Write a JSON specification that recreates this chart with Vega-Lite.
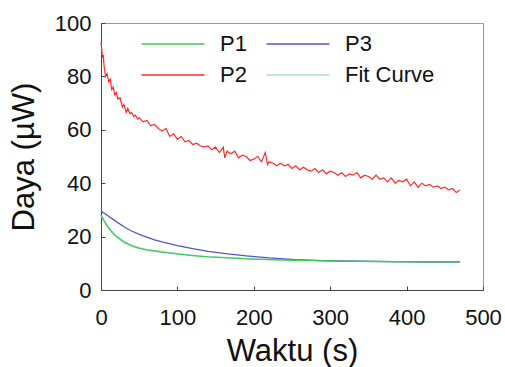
{
  "$schema": "https://vega.github.io/schema/vega-lite/v6.json",
  "width": 382,
  "height": 267,
  "autosize": "none",
  "padding": {"left": 101, "top": 23, "right": 22, "bottom": 77},
  "config": {
    "font": "Liberation Sans",
    "view": {"stroke": "#999999", "strokeWidth": 1},
    "axis": {"grid": false, "domainColor": "#444444", "tickColor": "#444444", "labelColor": "#111111", "titleColor": "#111111", "labelFont": "Liberation Sans", "titleFont": "Liberation Sans", "titleFontWeight": "normal"}
  },
  "datasets": {
    "p2": [
      {"t":0,"v":93},{"t":1,"v":90},{"t":2,"v":87},{"t":3,"v":88},{"t":4,"v":84},{"t":5,"v":82},{"t":6,"v":80},{"t":8,"v":81},{"t":10,"v":78},{"t":12,"v":79},{"t":14,"v":75},{"t":16,"v":76},{"t":18,"v":73},{"t":20,"v":74},{"t":22,"v":71.5},{"t":25,"v":72},{"t":28,"v":68.5},{"t":30,"v":69.5},{"t":33,"v":66.5},{"t":35,"v":68},{"t":38,"v":66},{"t":40,"v":66.5},{"t":43,"v":65},{"t":45,"v":65.5},{"t":48,"v":64},{"t":50,"v":64.5},{"t":55,"v":63},{"t":60,"v":63.5},{"t":65,"v":61.5},{"t":70,"v":62},{"t":75,"v":60.5},{"t":80,"v":59.5},{"t":85,"v":60.5},{"t":90,"v":57.5},{"t":95,"v":58.5},{"t":100,"v":56.5},{"t":105,"v":57.5},{"t":110,"v":55.5},{"t":115,"v":56},{"t":120,"v":54.5},{"t":125,"v":55},{"t":130,"v":54},{"t":135,"v":53.5},{"t":140,"v":54},{"t":145,"v":52.5},{"t":150,"v":53.5},{"t":155,"v":51.5},{"t":160,"v":53.5},{"t":162,"v":49.5},{"t":165,"v":52},{"t":170,"v":51},{"t":175,"v":52},{"t":180,"v":49.5},{"t":185,"v":50.5},{"t":190,"v":50},{"t":195,"v":48.5},{"t":200,"v":49},{"t":205,"v":50},{"t":210,"v":48},{"t":215,"v":51.5},{"t":218,"v":47},{"t":220,"v":48},{"t":225,"v":47.5},{"t":230,"v":46.5},{"t":235,"v":47.5},{"t":240,"v":46.5},{"t":245,"v":47},{"t":250,"v":45.5},{"t":255,"v":46.5},{"t":260,"v":45},{"t":265,"v":46},{"t":270,"v":45},{"t":275,"v":44.5},{"t":280,"v":45.5},{"t":285,"v":44},{"t":290,"v":45},{"t":295,"v":43.5},{"t":300,"v":44.5},{"t":305,"v":44},{"t":310,"v":43},{"t":315,"v":44},{"t":320,"v":42.5},{"t":325,"v":43.5},{"t":330,"v":43},{"t":335,"v":44},{"t":340,"v":42},{"t":345,"v":43},{"t":350,"v":42.5},{"t":355,"v":41.5},{"t":360,"v":43},{"t":365,"v":41.5},{"t":370,"v":42},{"t":375,"v":40.5},{"t":380,"v":42},{"t":385,"v":40},{"t":390,"v":41},{"t":395,"v":40.5},{"t":400,"v":41.5},{"t":405,"v":39},{"t":410,"v":40.5},{"t":415,"v":38.5},{"t":420,"v":40},{"t":425,"v":39},{"t":430,"v":39.5},{"t":435,"v":38.5},{"t":440,"v":39},{"t":445,"v":38},{"t":450,"v":38.5},{"t":455,"v":37.5},{"t":460,"v":38},{"t":465,"v":36.5},{"t":470,"v":37.5}
    ],
    "p1": [
      {"t":0,"v":28},{"t":5,"v":25.3},{"t":10,"v":23.2},{"t":15,"v":21.4},{"t":20,"v":20},{"t":30,"v":17.9},{"t":40,"v":16.5},{"t":50,"v":15.6},{"t":60,"v":15},{"t":70,"v":14.6},{"t":80,"v":14.2},{"t":100,"v":13.5},{"t":120,"v":12.9},{"t":140,"v":12.4},{"t":166,"v":12},{"t":200,"v":11.6},{"t":230,"v":11.3},{"t":260,"v":11.1},{"t":300,"v":10.9},{"t":340,"v":10.7},{"t":380,"v":10.6},{"t":420,"v":10.5},{"t":470,"v":10.5}
    ],
    "p3": [
      {"t":0,"v":29.6},{"t":10,"v":27.6},{"t":20,"v":25.6},{"t":30,"v":23.7},{"t":40,"v":22.1},{"t":50,"v":20.8},{"t":60,"v":19.8},{"t":70,"v":18.8},{"t":80,"v":18},{"t":100,"v":16.6},{"t":120,"v":15.5},{"t":140,"v":14.5},{"t":166,"v":13.5},{"t":190,"v":12.8},{"t":220,"v":12},{"t":254,"v":11.4},{"t":290,"v":11},{"t":330,"v":10.8},{"t":380,"v":10.6},{"t":420,"v":10.5},{"t":470,"v":10.5}
    ],
    "fit": [
      {"t":0,"v":27.8},{"t":10,"v":23.4},{"t":20,"v":20.3},{"t":30,"v":18.2},{"t":40,"v":16.7},{"t":60,"v":15.1},{"t":80,"v":14.3},{"t":100,"v":13.6},{"t":140,"v":12.5},{"t":200,"v":11.6},{"t":260,"v":11.1},{"t":320,"v":10.8},{"t":400,"v":10.6},{"t":470,"v":10.5}
    ]
  },
  "encoding": {
    "x": {"field": "t", "type": "quantitative", "scale": {"domain": [0, 500]},
      "axis": {"title": "Waktu (s)", "values": [0,100,200,300,400,500], "tickSize": -4, "labelFontSize": 22, "titleFontSize": 31, "labelPadding": 21, "titlePadding": 8, "labelFlush": false}},
    "y": {"field": "v", "type": "quantitative", "scale": {"domain": [0, 100]},
      "axis": {"title": "Daya (µW)", "values": [0,20,40,60,80,100], "tickSize": -4, "labelFontSize": 22, "titleFontSize": 31, "labelPadding": 14, "titlePadding": 14}},
    "color": {"field": "s", "type": "nominal",
      "scale": {"domain": ["P1", "P2", "P3", "Fit Curve"], "range": ["#3dcc55", "#ff2a2a", "#5555c8", "#a8dcdc"]},
      "legend": {"title": null, "orient": "none", "legendX": 61, "legendY": 10, "columns": 2, "symbolType": "M-6,0H6", "symbolSize": 110, "symbolStrokeWidth": 1.5, "labelFontSize": 22, "labelColor": "#111111", "labelFont": "Liberation Sans", "columnPadding": 16, "rowPadding": 9, "labelOffset": 36}}
  },
  "layer": [
    {"data": {"name": "fit"}, "transform": [{"calculate": "'Fit Curve'", "as": "s"}], "mark": {"type": "line", "strokeWidth": 1.5}},
    {"data": {"name": "p2"}, "transform": [{"calculate": "'P2'", "as": "s"}], "mark": {"type": "line", "strokeWidth": 1.2}},
    {"data": {"name": "p3"}, "transform": [{"calculate": "'P3'", "as": "s"}], "mark": {"type": "line", "strokeWidth": 1.3}},
    {"data": {"name": "p1"}, "transform": [{"calculate": "'P1'", "as": "s"}], "mark": {"type": "line", "strokeWidth": 1.3}}
  ]
}
